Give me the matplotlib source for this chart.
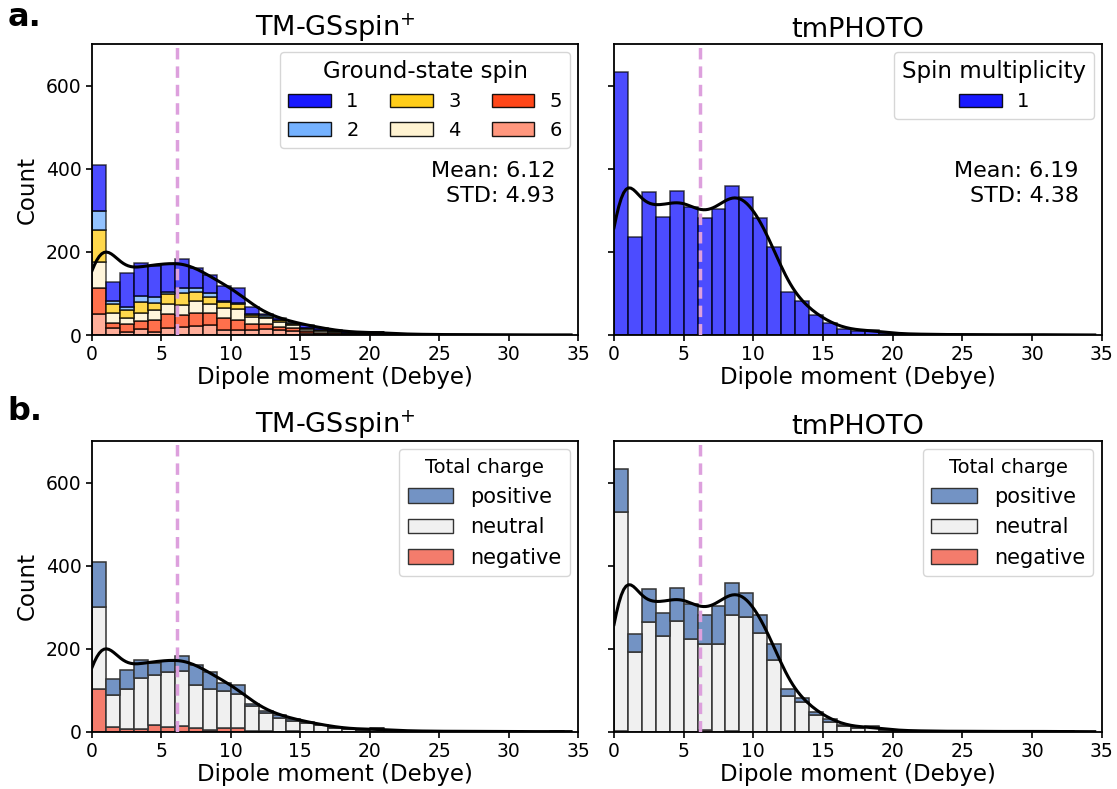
"""Dipole moment distributions: TM-GSspin+ vs tmPHOTO, split by spin and by charge."""

import matplotlib.pyplot as plt
import numpy as np
import seaborn as sns
from matplotlib.patches import Patch

# --- data (counts per 1-Debye bin) -----------------------------------------
gs_edges = np.arange(0, 35, 1.0)      # 34 bins, 0..34
tm_edges = np.arange(0, 34, 1.0)      # 33 bins, 0..33

# TM-GSspin+ stacked by ground-state spin
spin_levels = ["1", "2", "3", "4", "5", "6"]
gs_spin1 = [110, 46, 81, 78, 75, 68, 70, 48, 44, 35, 34, 16, 4, 3, 2, 6, 5, 2,
            1, 1, 1, 0, 0, 0, 0, 0, 0, 0, 0, 0, 0, 0, 0, 0]
gs_spin2 = [45, 7, 6, 16, 13, 5, 12, 9, 8, 2, 3, 2, 3, 1, 1, 1, 1, 0,
            0, 0, 0, 0, 0, 0, 0, 0, 0, 0, 0, 0, 0, 0, 0, 0]
gs_spin3 = [77, 20, 19, 25, 19, 23, 30, 20, 17, 14, 12, 6, 4, 4, 2, 2, 2, 1,
            1, 0, 1, 0, 0, 0, 0, 0, 0, 0, 0, 0, 0, 0, 0, 0]
gs_spin4 = [63, 25, 16, 21, 22, 25, 23, 31, 22, 24, 28, 17, 14, 12, 9, 6, 4, 4,
            2, 2, 2, 1, 1, 1, 0, 1, 0, 0, 1, 0, 0, 0, 0, 0]
gs_spin5 = [62, 12, 18, 19, 29, 34, 29, 30, 29, 29, 24, 13, 12, 7, 6, 4, 3, 2,
            2, 1, 2, 1, 1, 0, 1, 0, 0, 1, 0, 0, 0, 0, 0, 0]
gs_spin6 = [51, 17, 8, 14, 8, 16, 19, 22, 24, 13, 11, 13, 14, 13, 10, 5, 2, 2,
            1, 1, 2, 1, 0, 1, 0, 0, 1, 0, 0, 0, 1, 0, 0, 1]

# TM-GSspin+ stacked by total charge
charge_levels = ["positive", "neutral", "negative"]
gs_pos = [108, 38, 46, 44, 29, 28, 38, 48, 41, 20, 20, 6, 6, 6, 3, 2, 1, 1,
          0, 0, 0, 0, 0, 0, 0, 0, 0, 0, 0, 0, 0, 0, 0, 0]
gs_neu = [197, 77, 95, 123, 122, 131, 131, 102, 99, 89, 84, 59, 43, 34, 26, 22, 16, 10,
          7, 5, 8, 3, 2, 2, 1, 1, 1, 1, 1, 0, 1, 0, 0, 1]
gs_neg = [103, 12, 7, 6, 15, 12, 14, 10, 4, 8, 8, 2, 2, 0, 1, 0, 0, 0,
          0, 0, 0, 0, 0, 0, 0, 0, 0, 0, 0, 0, 0, 0, 0, 0]

# tmPHOTO (all singlets)
tm_spin1 = [632, 235, 344, 285, 347, 308, 282, 302, 359, 333, 282, 212, 104, 81, 47, 30, 15,
            10, 13, 5, 3, 2, 2, 1, 1, 1, 1, 1, 0, 1, 1, 0, 1]
tm_pos = [104, 42, 80, 54, 80, 85, 71, 92, 78, 57, 45, 39, 17, 10, 6, 7, 1,
          1, 1, 0, 0, 0, 0, 0, 0, 0, 0, 0, 0, 0, 0, 0, 0]
tm_neu = [526, 193, 264, 231, 267, 223, 208, 210, 279, 276, 237, 173, 87, 71, 41, 23, 14,
          9, 12, 5, 3, 2, 2, 1, 1, 1, 1, 1, 0, 1, 1, 0, 1]
tm_neg = [2, 0, 0, 0, 0, 0, 3, 0, 2, 0, 0, 0, 0, 0, 0, 0, 0,
          0, 0, 0, 0, 0, 0, 0, 0, 0, 0, 0, 0, 0, 0, 0, 0]

gs_mean, gs_std = 6.12, 4.93
tm_mean, tm_std = 6.19, 4.38

# --- styling ----------------------------------------------------------------
spin_colors = ["#0000ff", "#66aaff", "#ffc800", "#fff2cc", "#ff3300", "#ff8c70"]
charge_colors = ["#7393c4", "#f0f0f0", "#f47c6c"]
MEAN_COLOR = "#dda0dd"
FS_TICK, FS_LABEL, FS_TITLE = 13.5, 16.5, 19.5

plt.rcParams["font.family"] = "DejaVu Sans"


def stacked(ax, edges, layers, colors, alpha=1.0, edgecolor="black"):
    """Stack layers bottom-up; layers[0] ends up on top."""
    centers = edges[:-1] + 0.5
    width = np.diff(edges)
    bottom = np.zeros(len(centers))
    for vals, col in zip(layers[::-1], colors[::-1]):
        vals = np.asarray(vals, dtype=float)
        ax.bar(centers, vals, width=width, bottom=bottom, color=col,
               alpha=alpha, edgecolor=edgecolor, linewidth=1.1, zorder=2)
        bottom += vals
    return centers, bottom


def kde_line(ax, centers, totals, binw=1.0):
    # density from seaborn, rescaled to counts per bin
    n_before = len(ax.lines)
    sns.kdeplot(x=centers, weights=totals, bw_adjust=0.38, cut=3, clip=(0, 34.5),
                color="black", lw=2.2, zorder=4, ax=ax)
    line = ax.lines[n_before]
    line.set_ydata(line.get_ydata() * totals.sum() * binw)


def style_axes(ax, title, show_ylabel=True):
    ax.set_xlim(0, 35)
    ax.set_ylim(0, 700)
    ax.set_xticks(range(0, 36, 5))
    ax.set_yticks([0, 200, 400, 600])
    ax.tick_params(labelsize=FS_TICK, width=1.2, length=4)
    ax.set_title(title, fontsize=FS_TITLE, pad=5)
    ax.set_xlabel("Dipole moment (Debye)", fontsize=FS_LABEL, labelpad=1)
    if show_ylabel:
        ax.set_ylabel("Count", fontsize=FS_LABEL, labelpad=5)
    else:
        ax.set_ylabel("")
        ax.tick_params(labelleft=False)
    for s in ax.spines.values():
        s.set_linewidth(1.3)


def mean_marks(ax, mean, std, text=True):
    ax.axvline(mean, color=MEAN_COLOR, ls=(0, (3.3, 2)), lw=2.5, zorder=3)
    if text:
        ax.text(0.953, 0.52, f"Mean: {mean:.2f}\nSTD: {std:.2f}",
                transform=ax.transAxes, ha="right", va="center",
                fontsize=16, linespacing=1.3)


fig = plt.figure(figsize=(11.17, 7.89), dpi=100)
ax_a1 = fig.add_axes([0.0824, 0.5754, 0.4351, 0.3688])
ax_a2 = fig.add_axes([0.5497, 0.5754, 0.4366, 0.3688])
ax_b1 = fig.add_axes([0.0824, 0.0726, 0.4351, 0.3685])
ax_b2 = fig.add_axes([0.5497, 0.0726, 0.4366, 0.3685])

gs_spin = [gs_spin1, gs_spin2, gs_spin3, gs_spin4, gs_spin5, gs_spin6]

# a. left: stacked by spin
c, tot = stacked(ax_a1, gs_edges, gs_spin, spin_colors, alpha=0.7)
kde_line(ax_a1, c, tot)
mean_marks(ax_a1, gs_mean, gs_std)
style_axes(ax_a1, "TM-GSspin$^{+}$")
handles = [Patch(facecolor=col, edgecolor="black", alpha=0.9, label=lab)
           for lab, col in zip(spin_levels, spin_colors)]
ax_a1.legend(handles=handles, title="Ground-state spin", ncol=3, loc="upper right",
             fontsize=14, title_fontsize=16.5, handlelength=2.2, columnspacing=1.6,
             borderaxespad=0.4)

# a. right: tmPHOTO single spin
c, tot = stacked(ax_a2, tm_edges, [tm_spin1], spin_colors[:1], alpha=0.7)
kde_line(ax_a2, c, tot)
mean_marks(ax_a2, tm_mean, tm_std)
style_axes(ax_a2, "tmPHOTO", show_ylabel=False)
ax_a2.legend(handles=handles[:1], title="Spin multiplicity", loc="upper right",
             fontsize=14, title_fontsize=16.5, handlelength=2.2, borderaxespad=0.4)

# b. stacked by charge
charge_handles = [Patch(facecolor=col, edgecolor="#333333", label=lab)
                  for lab, col in zip(charge_levels, charge_colors)]
for ax, edges, layers, mean, title, ylab in [
        (ax_b1, gs_edges, [gs_pos, gs_neu, gs_neg], gs_mean, "TM-GSspin$^{+}$", True),
        (ax_b2, tm_edges, [tm_pos, tm_neu, tm_neg], tm_mean, "tmPHOTO", False)]:
    c, tot = stacked(ax, edges, layers, charge_colors, edgecolor="#333333")
    kde_line(ax, c, tot)
    mean_marks(ax, mean, None, text=False)
    style_axes(ax, title, show_ylabel=ylab)
    ax.legend(handles=charge_handles, title="Total charge", loc="upper right",
              fontsize=15, title_fontsize=14, handlelength=2.2, borderaxespad=0.4)

fig.text(0.007, 0.978, "a.", fontsize=23, fontweight="bold", va="center")
fig.text(0.007, 0.479, "b.", fontsize=23, fontweight="bold", va="center")

fig.savefig("out.png", dpi=100)
